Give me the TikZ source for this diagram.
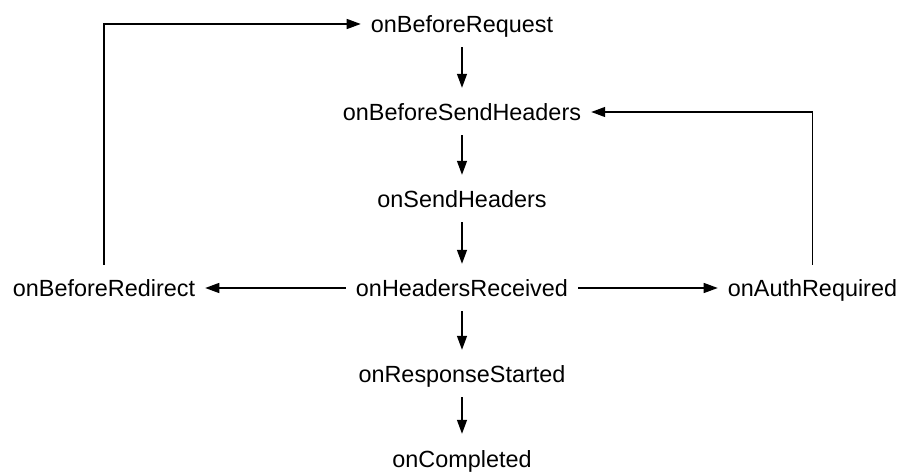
\documentclass[tikz,border=0pt]{standalone}
\usepackage{fontspec}
\setmainfont{Liberation Sans}
\usetikzlibrary{arrows.meta}
\begin{document}
\begin{tikzpicture}[x=1pt,y=-1pt,
  ev/.style={anchor=base,font=\fontsize{23.4pt}{28pt}\selectfont,
    text height=20pt,text depth=2pt,inner ysep=12pt,inner xsep=10pt},
  conn/.style={line width=1.3pt,-{Triangle[length=14pt,width=10pt]}},
  down/.style={conn,shorten >=1pt}]
\useasboundingbox (0,0) rectangle (898,473);
\node[ev] (req)   at (462,33)  {onBeforeRequest};
\node[ev] (bsh)   at (462,121) {onBeforeSendHeaders};
\node[ev] (sh)    at (462,208) {onSendHeaders};
\node[ev] (hr)    at (462,297) {onHeadersReceived};
\node[ev] (rs)    at (462,383) {onResponseStarted};
\node[ev] (comp)  at (462,467) {onCompleted};
\node[ev] (redir) at (104,297) {onBeforeRedirect};
\node[ev] (auth)  at (812.5,297) {onAuthRequired};
\draw[down] (req) -- (bsh);
\draw[down] (bsh) -- (sh);
\draw[down] (sh) -- (hr);
\draw[down] (hr) -- (rs);
\draw[down] (rs) -- (comp);
\draw[conn] (hr.west) -- (redir.east);
\draw[conn] (hr.east) -- (auth.west);
\draw[conn] (redir.north) |- (req.west);
\draw[conn] (auth.north) |- (bsh.east);
\end{tikzpicture}
\end{document}
